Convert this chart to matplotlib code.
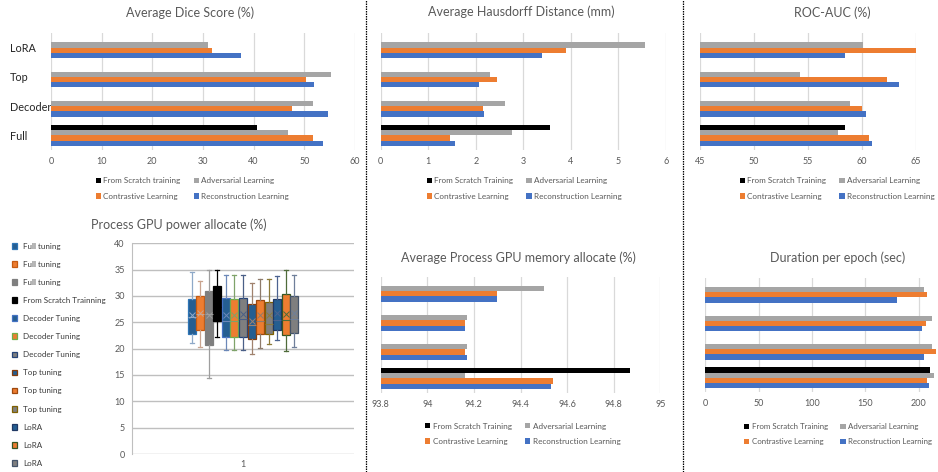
import numpy as np
import matplotlib
matplotlib.use("Agg")
import matplotlib.pyplot as plt
from matplotlib.lines import Line2D

plt.rcParams['font.family'] = ['Lato', 'DejaVu Sans']

# ---------------- data ----------------
groups = ["Full", "Decoder", "Top", "LoRA"]          # bottom -> top
nan = np.nan

dice_rec = [53.6, 54.6, 52.0, 37.5]
dice_con = [51.7, 47.5, 50.3, 31.8]
dice_adv = [46.8, 51.7, 55.3, 31.0]
dice_scr = [40.7, nan, nan, nan]

hd_rec = [1.56, 2.17, 2.07, 3.39]
hd_con = [1.46, 2.15, 2.45, 3.90]
hd_adv = [2.76, 2.61, 2.30, 5.56]
hd_scr = [3.56, nan, nan, nan]

auc_rec = [60.9, 60.35, 63.4, 58.4]
auc_con = [60.7, 60.0, 62.3, 65.1]
auc_adv = [57.8, 58.9, 54.3, 60.1]
auc_scr = [58.4, nan, nan, nan]

mem_rec = [94.53, 94.17, 94.16, 94.30]
mem_con = [94.54, 94.16, 94.16, 94.30]
mem_adv = [94.16, 94.17, 94.17, 94.50]
mem_scr = [94.87, nan, nan, nan]

dur_rec = [209.7, 205.0, 203.1, 179.7]
dur_con = [207.8, 216.3, 206.9, 207.8]
dur_adv = [214.4, 212.5, 212.5, 204.7]
dur_scr = [210.6, nan, nan, nan]

# GPU power box statistics (13 runs)
box_labels = ["Full tuning", "Full tuning", "Full tuning", "From Scratch Trainning",
              "Decoder Tuning", "Decoder Tuning", "Decoder Tuning",
              "Top tuning", "Top tuning", "Top tuning", "LoRA", "LoRA", "LoRA"]
box_whislo = [21.1, 20.4, 14.4, 22.2, 19.8, 19.8, 19.8, 19.0, 20.1, 20.9, 21.7, 19.5, 20.3]
box_q1     = [22.8, 23.6, 20.7, 25.3, 22.3, 22.3, 22.3, 21.9, 22.7, 22.8, 23.6, 22.5, 23.0]
box_med    = [26.0, 26.6, 26.5, 28.0, 25.2, 25.2, 25.7, 24.5, 25.3, 24.7, 25.5, 25.5, 25.6]
box_mean   = [26.3, 26.8, 26.4, 28.2, 26.3, 26.3, 26.6, 25.3, 26.3, 26.3, 26.8, 26.6, 26.8]
box_q3     = [29.5, 30.0, 31.0, 31.9, 29.65, 29.4, 29.7, 28.5, 29.2, 28.95, 29.5, 30.3, 30.0]
box_whishi = [34.5, 32.9, 34.9, 34.9, 34.0, 34.0, 34.0, 32.5, 33.3, 33.3, 33.7, 34.9, 34.0]

# ---------------- styling ----------------
C_REC, C_CON, C_ADV, C_SCR = "#4472C4", "#ED7D31", "#A5A5A5", "#000000"
TXT = "#595959"
GRID = "#D9D9D9"

W, H = 938, 472
fig = plt.figure(figsize=(W / 100, H / 100), dpi=100)


def px_axes(x0, x1, y0, y1):
    return fig.add_axes([x0 / W, 1 - y1 / H, (x1 - x0) / W, (y1 - y0) / H])


def bar_panel(x0, x1, y0, y1, xlim, ticks, ticklabels, rec, con, adv, scr,
              title, title_xy, legend_xy, show_cats=False, scr_label="From Scratch Training",
              legend_size=5.9):
    ax = px_axes(x0, x1, y0, y1)
    h = 0.18
    y = np.arange(len(groups))
    b_rec = ax.barh(y - 1.5 * h, rec, height=h, color=C_REC, label="Reconstruction Learning")
    b_con = ax.barh(y - 0.5 * h, con, height=h, color=C_CON, label="Contrastive Learning")
    b_adv = ax.barh(y + 0.5 * h, adv, height=h, color=C_ADV, label="Adversarial Learning")
    b_scr = ax.barh(y + 1.5 * h, scr, height=h, color=C_SCR, label=scr_label)
    ax.set_xlim(*xlim)
    ax.set_ylim(-0.5, len(groups) - 0.5)
    ax.set_xticks(ticks)
    ax.set_xticklabels(ticklabels)
    ax.xaxis.grid(True, color=GRID, lw=0.9)
    ax.set_axisbelow(True)
    for s in ax.spines.values():
        s.set_visible(False)
    ax.tick_params(axis='x', length=0, pad=5, labelsize=6.5, labelcolor=TXT)
    if show_cats:
        ax.set_yticks(y)
        ax.set_yticklabels(groups, ha='left', fontsize=7.8, color="#262626")
        ax.tick_params(axis='y', length=0, pad=(x0 - 10) * 0.72)
    else:
        ax.set_yticks([])
    fig.text(title_xy[0] / W, 1 - title_xy[1] / H, title, ha='center', va='center',
             fontsize=9, color=TXT)
    ax.legend([b_scr, b_con, b_adv, b_rec],
              [scr_label, "Contrastive Learning", "Adversarial Learning",
               "Reconstruction Learning"],
              ncol=2, loc='upper left', frameon=False,
              bbox_to_anchor=(legend_xy[0] / W, 1 - legend_xy[1] / H),
              bbox_transform=fig.transFigure, borderpad=0, borderaxespad=0,
              fontsize=legend_size, handlelength=0.65, handleheight=0.65,
              handletextpad=0.3, labelspacing=1.05, columnspacing=1.6,
              labelcolor=TXT)
    return ax


# top row
bar_panel(51, 355, 33, 150, (0, 60), [0, 10, 20, 30, 40, 50, 60],
          ["0", "10", "20", "30", "40", "50", "60"],
          dice_rec, dice_con, dice_adv, dice_scr,
          "Average Dice Score (%)", (190, 13), (95.5, 177.5), show_cats=True,
          scr_label="From Scratch training")
bar_panel(380.7, 666, 33, 150, (0, 6), [0, 1, 2, 3, 4, 5, 6],
          ["0", "1", "2", "3", "4", "5", "6"],
          hd_rec, hd_con, hd_adv, hd_scr,
          "Average Hausdorff Distance (mm)", (521, 12), (426.5, 177.5))
bar_panel(699.7, 916, 33, 150, (45, 65), [45, 50, 55, 60, 65],
          ["45", "50", "55", "60", "65"],
          auc_rec, auc_con, auc_adv, auc_scr,
          "ROC-AUC (%)", (832, 13), (739.5, 177.5))

# bottom row
bar_panel(380.7, 660.3, 276.7, 393, (93.8, 95.0), [93.8, 94.0, 94.2, 94.4, 94.6, 94.8, 95.0],
          ["93.8", "94", "94.2", "94.4", "94.6", "94.8", "95"],
          mem_rec, mem_con, mem_adv, mem_scr,
          "Average Process GPU memory allocate (%)", (518, 258), (425, 422.5))
bar_panel(705.3, 938, 278, 392, (0, 218.2), [0, 50, 100, 150, 200],
          ["0", "50", "100", "150", "200"],
          dur_rec, dur_con, dur_adv, dur_scr,
          "Duration per epoch (sec)", (838, 258), (744, 423), legend_size=5.7)

# ---------------- box plot ----------------
B_BLUE, B_ORANGE, B_GRAY = "#255E91", "#ED7D31", "#7F7F7F"
fills = [B_BLUE, B_ORANGE, B_GRAY, "#000000",
         B_BLUE, B_ORANGE, B_GRAY,
         B_BLUE, B_ORANGE, B_GRAY,
         B_BLUE, B_ORANGE, B_GRAY]
edges = ["#2E75B6", "#C55A11", "#7F7F7F", "#000000",
         "#4472C4", "#70AD47", "#264478",
         "#843C0C", "#9E480E", "#7F6000",
         "#203864", "#375623", "#44546A"]
whisk = ["#8EA9C8", "#C9A48F", "#9E9E9E", "#000000",
         "#6C88B8", "#7FA36A", "#4A5F87",
         "#A0826E", "#8E7B6B", "#8C7A3A",
         "#4C6390", "#4F6B3A", "#6F7F9A"]

axb = px_axes(131.7, 354.3, 243.3, 454)
n = len(box_q1)
pitch = 0.0385
positions = 1 + (np.arange(n) - (n - 1) / 2) * pitch
stats = [dict(med=box_med[i], q1=box_q1[i], q3=box_q3[i], whislo=box_whislo[i],
              whishi=box_whishi[i], mean=box_mean[i], fliers=[]) for i in range(n)]
art = axb.bxp(stats, positions=positions, widths=0.0355, patch_artist=True,
              showmeans=True, manage_ticks=False)
for i in range(n):
    art['boxes'][i].set_facecolor(fills[i])
    art['boxes'][i].set_edgecolor(edges[i])
    art['boxes'][i].set_linewidth(0.9)
    art['medians'][i].set_color(whisk[i])
    art['medians'][i].set_linewidth(0.8)
    for w in art['whiskers'][2 * i:2 * i + 2] + art['caps'][2 * i:2 * i + 2]:
        w.set_color(whisk[i])
        w.set_linewidth(0.9)
    m = art['means'][i]
    m.set_marker('x')
    m.set_markersize(4)
    m.set_markeredgecolor(whisk[i])
    m.set_markerfacecolor('none')
    m.set_markeredgewidth(0.7)

axb.set_xlim(0.5, 1.5)
axb.set_ylim(0, 40)
axb.set_yticks(np.arange(0, 41, 5))
axb.set_xticks([1])
axb.set_xticklabels(["1"])
axb.yaxis.grid(True, color="#BFBFBF", lw=1.0)
axb.set_axisbelow(True)
for k, s in axb.spines.items():
    s.set_visible(k == 'left')
axb.spines['left'].set_color("#BFBFBF")
axb.tick_params(axis='both', length=0, labelsize=6.5, labelcolor=TXT)
axb.tick_params(axis='y', pad=5)
axb.tick_params(axis='x', pad=4)
fig.text(179 / W, 1 - 225 / H, "Process GPU power allocate (%)", ha='center', va='center',
         fontsize=9, color=TXT)
axb.legend(art['boxes'], box_labels, loc='upper left', frameon=False,
           bbox_to_anchor=(11.5 / W, 1 - 242.5 / H), bbox_transform=fig.transFigure,
           borderpad=0, borderaxespad=0, fontsize=5.8, handlelength=0.72,
           handleheight=0.72, handletextpad=0.7, labelspacing=1.38,
           labelcolor="#3A3A3A")

# panel separators
for xs in (366, 683):
    fig.add_artist(Line2D([xs / W, xs / W], [0, 1], transform=fig.transFigure,
                          color="black", lw=0.9, linestyle=(0, (1.2, 0.8))))

fig.savefig("out.png", dpi=100)
